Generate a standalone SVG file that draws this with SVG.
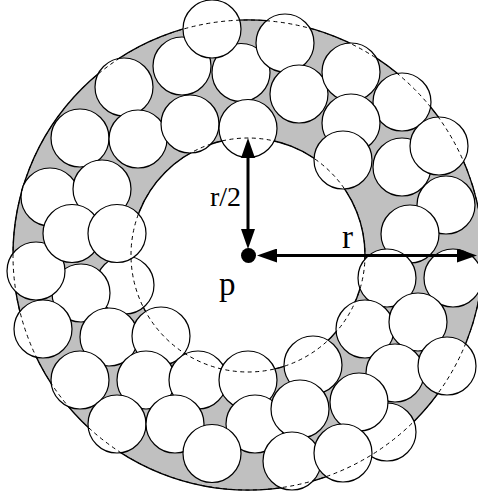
<svg xmlns="http://www.w3.org/2000/svg" width="478" height="492" viewBox="0 0 478 492">
<defs>
<style>
.ring{fill:#c0c0c0;fill-rule:evenodd;stroke:#000;stroke-width:1.4}
.c{fill:#fff;stroke:#000;stroke-width:1.2}
.dash{fill:none;stroke:#000;stroke-width:1;stroke-dasharray:4 3.5}
.arr{stroke:#000;stroke-width:3;fill:none}
.lbl{font-family:"Liberation Serif","Times New Roman",serif;fill:#000}
</style>
<marker id="ah" viewBox="0 0 20 14" refX="0" refY="7" markerWidth="20" markerHeight="14" markerUnits="userSpaceOnUse" orient="auto-start-reverse">
<path d="M0,0 L20,7 L0,14 Z" fill="#000"/>
</marker>
</defs>
<rect width="478" height="492" fill="#fff"/>
<g id="annulus">
<path class="ring" d="M13,255 a235,235 0 1,0 470,0 a235,235 0 1,0 -470,0 Z M131,255 a117,117 0 1,0 234,0 a117,117 0 1,0 -234,0 Z"/>
</g>
<g id="circles">
<circle id="c1" class="c" cx="124" cy="87" r="29"/>
<circle id="c2" class="c" cx="80" cy="138" r="29"/>
<circle id="c3" class="c" cx="182" cy="66" r="29"/>
<circle id="c4" class="c" cx="138" cy="139" r="29"/>
<circle id="c5" class="c" cx="190" cy="124" r="29"/>
<circle id="c6" class="c" cx="50" cy="197" r="29"/>
<circle id="c7" class="c" cx="102" cy="189" r="29"/>
<circle id="c8" class="c" cx="125" cy="285" r="29"/>
<circle id="c9" class="c" cx="81" cy="293" r="29"/>
<circle id="c10" class="c" cx="36" cy="271" r="29"/>
<circle id="c11" class="c" cx="72" cy="233.5" r="29"/>
<circle id="c12" class="c" cx="117" cy="233.5" r="29"/>
<circle id="c13" class="c" cx="43" cy="329" r="29"/>
<circle id="c14" class="c" cx="109" cy="337" r="29"/>
<circle id="c15" class="c" cx="161" cy="336" r="29"/>
<circle id="c16" class="c" cx="80" cy="380" r="29"/>
<circle id="c17" class="c" cx="146" cy="380" r="29"/>
<circle id="c18" class="c" cx="117" cy="424" r="29"/>
<circle id="c19" class="c" cx="198" cy="380" r="29"/>
<circle id="c20" class="c" cx="175" cy="424" r="29"/>
<circle id="c21" class="c" cx="248" cy="380" r="29"/>
<circle id="c22" class="c" cx="255" cy="424" r="29"/>
<circle id="c23" class="c" cx="212" cy="453.5" r="29"/>
<circle id="c24" class="c" cx="313" cy="365" r="29"/>
<circle id="c25" class="c" cx="300" cy="409" r="29"/>
<circle id="c26" class="c" cx="292" cy="461" r="29"/>
<circle id="c27" class="c" cx="446" cy="205" r="29"/>
<circle id="c28" class="c" cx="410" cy="234" r="29"/>
<circle id="c29" class="c" cx="387" cy="278" r="29"/>
<circle id="c30" class="c" cx="453" cy="278" r="29"/>
<circle id="c31" class="c" cx="365" cy="329" r="29"/>
<circle id="c32" class="c" cx="418" cy="322" r="29"/>
<circle id="c33" class="c" cx="395" cy="373" r="29"/>
<circle id="c34" class="c" cx="447" cy="366" r="29"/>
<circle id="c35" class="c" cx="387" cy="432" r="29"/>
<circle id="c36" class="c" cx="359" cy="402" r="29"/>
<circle id="c37" class="c" cx="343" cy="453" r="29"/>
<circle id="c38" class="c" cx="241" cy="72.5" r="29"/>
<circle id="c39" class="c" cx="212" cy="29" r="29"/>
<circle id="c40" class="c" cx="285" cy="43" r="29"/>
<circle id="c41" class="c" cx="299" cy="94" r="29"/>
<circle id="c42" class="c" cx="248" cy="128.5" r="29"/>
<circle id="c43" class="c" cx="351" cy="72" r="29"/>
<circle id="c44" class="c" cx="402" cy="102" r="29"/>
<circle id="c45" class="c" cx="351" cy="123" r="29"/>
<circle id="c46" class="c" cx="343" cy="160" r="29"/>
<circle id="c47" class="c" cx="402" cy="167" r="29"/>
<circle id="c48" class="c" cx="439" cy="146" r="29"/>
</g>
<g id="boundary-dashed">
<circle class="dash" cx="248" cy="255" r="235"/>
<circle class="dash" cx="248" cy="255" r="117"/>
</g>
<g id="connectors">
<line class="arr" x1="248" y1="158" x2="248" y2="229" marker-start="url(#ah)" marker-end="url(#ah)"/>
<line class="arr" x1="277" y1="255.5" x2="457" y2="255.5" marker-start="url(#ah)" marker-end="url(#ah)"/>
</g>
<g id="p">
<circle cx="248.5" cy="255.5" r="7.5" fill="#000"/>
<text class="lbl" x="219" y="295" font-size="33">p</text>
</g>
<text class="lbl" x="210" y="206" font-size="28">r/2</text>
<text class="lbl" x="342" y="248" font-size="33">r</text>
</svg>
